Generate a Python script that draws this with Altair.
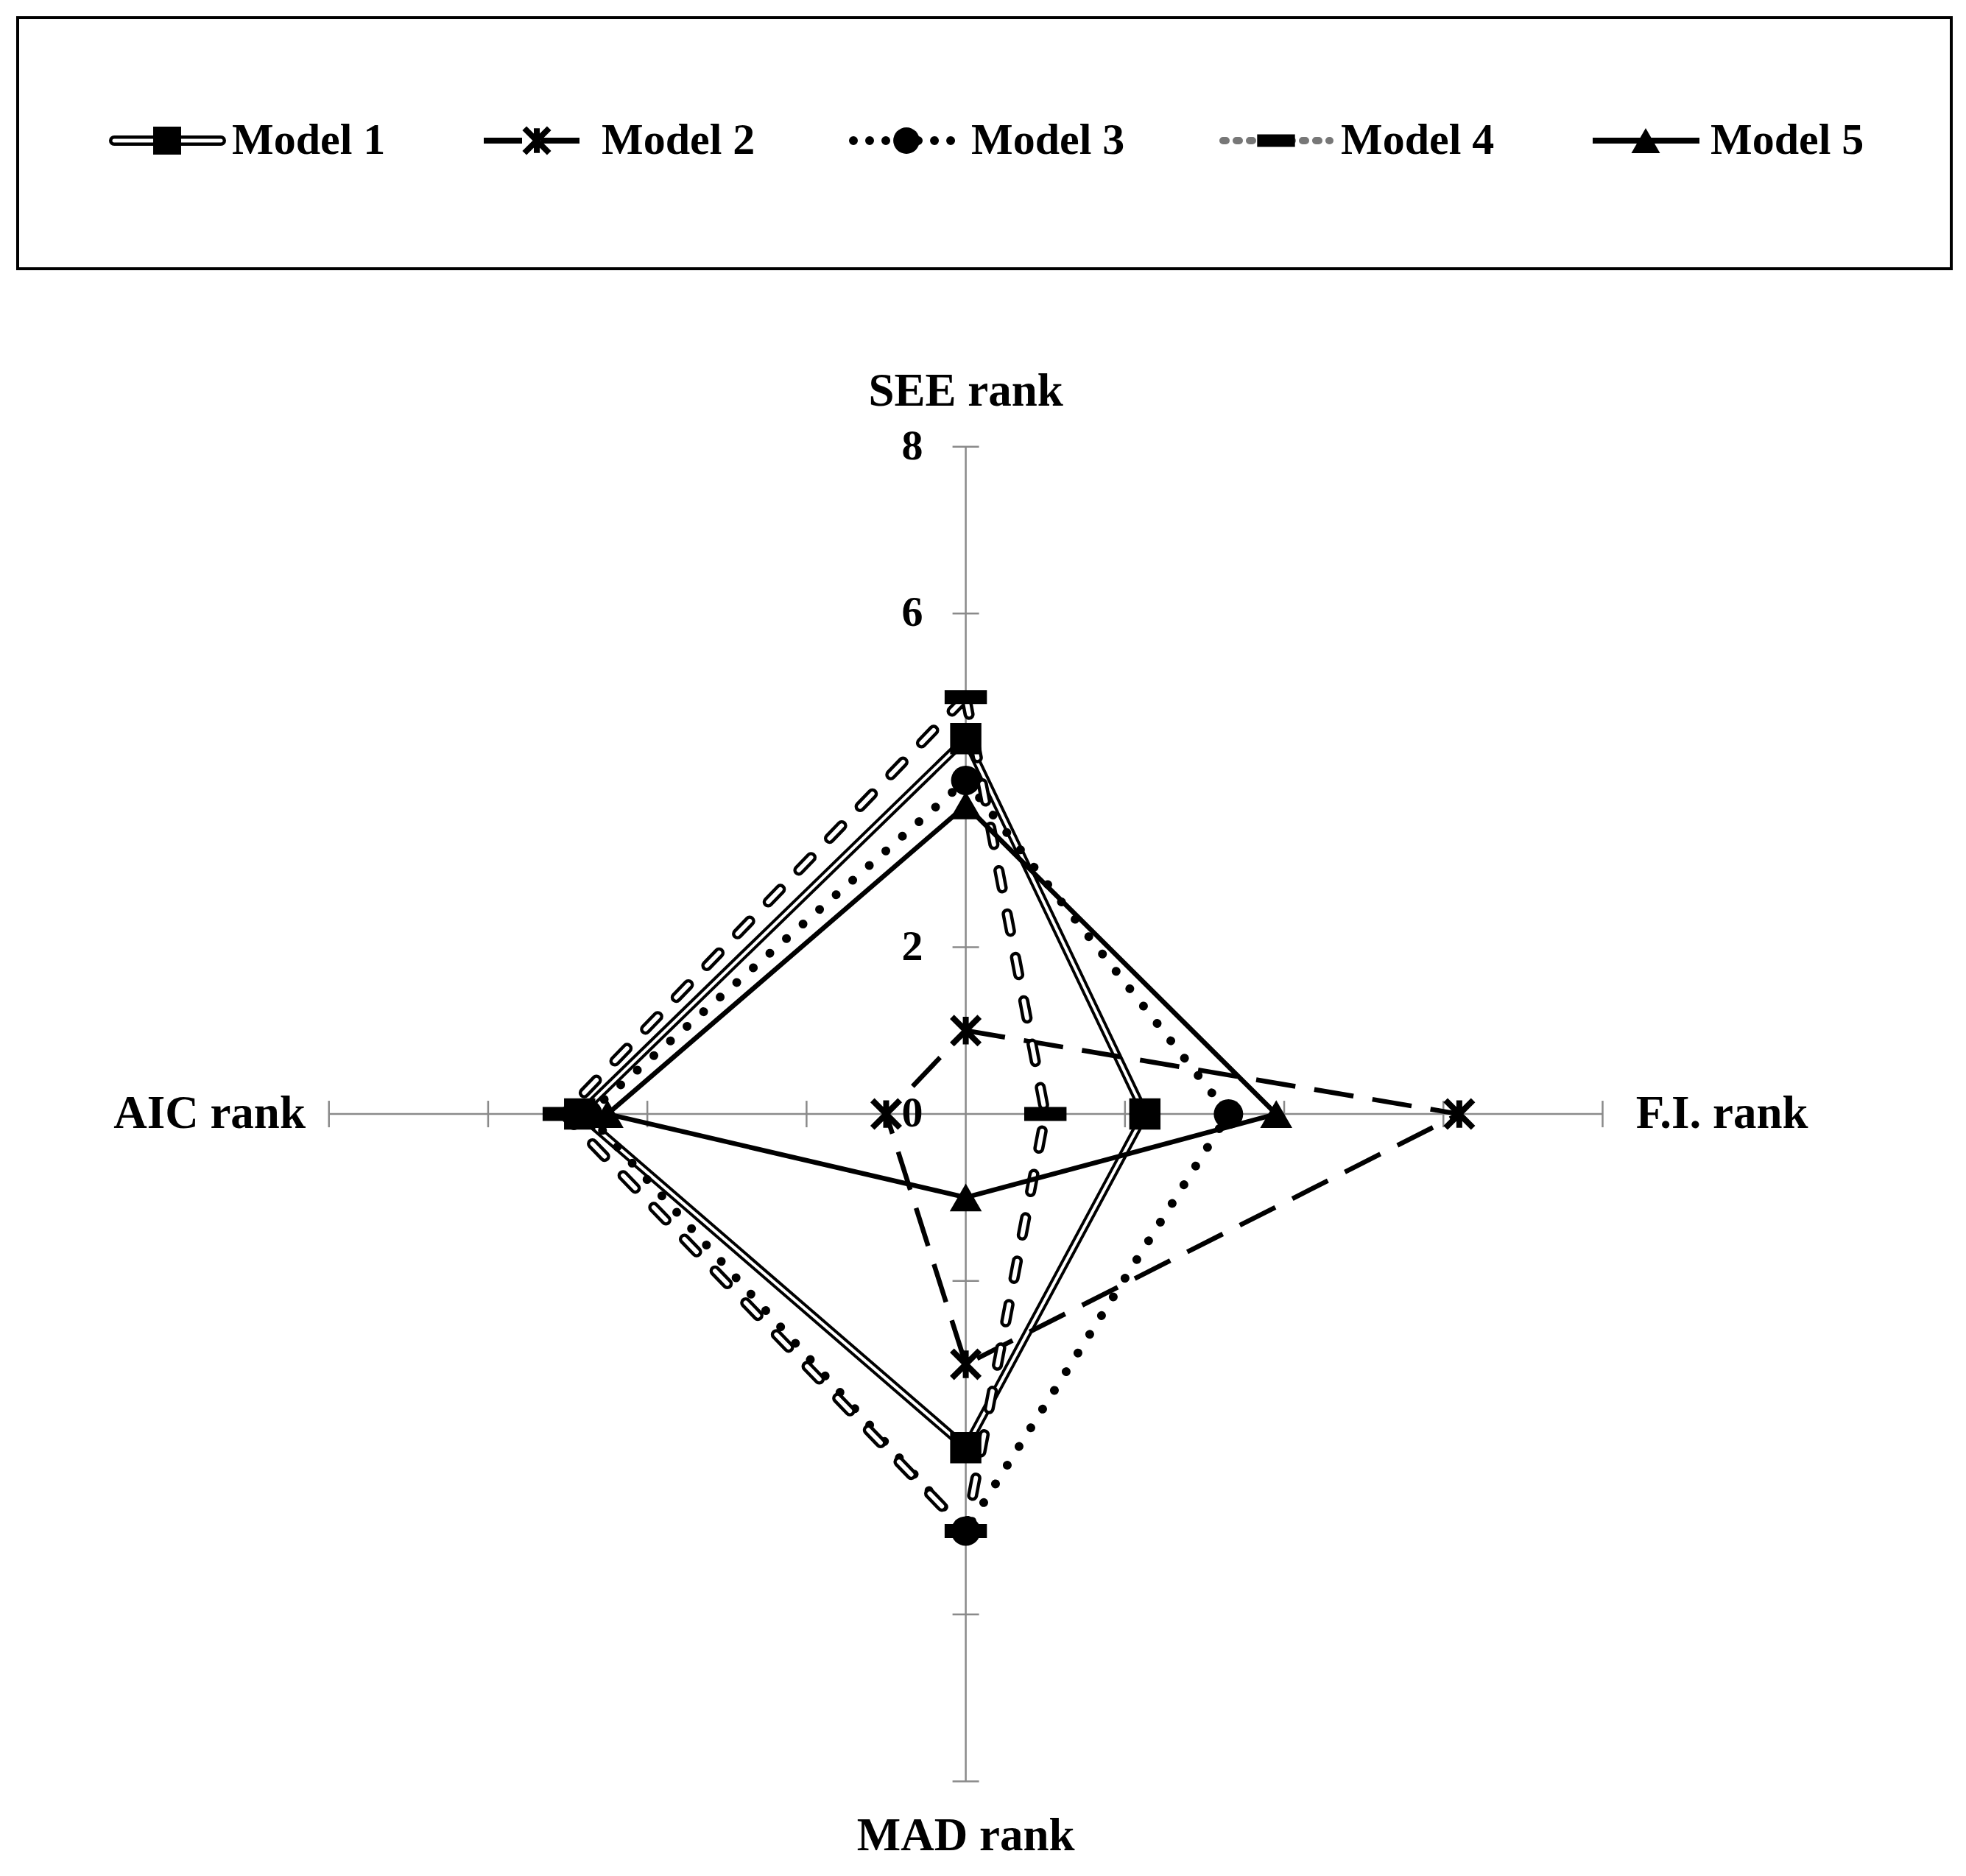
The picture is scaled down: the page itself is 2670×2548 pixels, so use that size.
import altair as alt
import pandas as pd

# ---------------- data ----------------
categories = ["SEE rank", "F.I. rank", "MAD rank", "AIC rank"]
models = ["Model 1", "Model 2", "Model 3", "Model 4", "Model 5"]
see_rank = [4.5, 1.0, 4.0, 5.0, 3.7]
fi_rank = [2.25, 6.2, 3.3, 1.0, 3.9]
mad_rank = [4.0, 3.0, 5.0, 5.0, 1.0]
aic_rank = [4.85, 1.0, 4.75, 5.05, 4.5]
tick_values = [2, 4, 6, 8]
tick_label_values = [0, 2, 6, 8]
r_max = 8

FONT = "Liberation Serif"
W = 2626
LEG_H = 341
RAD_H = 2140
X_DOM = [-11.91, 12.38]
Y_DOM = [-9.10, 9.79]
UX = W / (X_DOM[1] - X_DOM[0])
UY = RAD_H / (Y_DOM[1] - Y_DOM[0])

rows = []
for mi, m in enumerate(models):
    vals = [see_rank[mi], fi_rank[mi], mad_rank[mi], aic_rank[mi]]
    for k in range(5):
        ci = k % 4
        rows.append(dict(model=m, order=k, axis=categories[ci], idx=ci, value=vals[ci]))
series_df = pd.DataFrame(rows)
axes_df = pd.DataFrame({"axis": categories, "idx": list(range(4))})
ticks_df = pd.DataFrame([dict(idx=i, v=v) for i in range(4) for v in tick_values])
tlab_df = pd.DataFrame({"v": tick_label_values, "label": [str(v) for v in tick_label_values]})

xs = alt.Scale(domain=X_DOM, nice=False, zero=False)
ys = alt.Scale(domain=Y_DOM, nice=False, zero=False)


def X(f):
    return alt.X(f, type="quantitative", scale=xs, axis=None)


def Y(f):
    return alt.Y(f, type="quantitative", scale=ys, axis=None)


AXIS_COLOR = "#8a8a8a"

# spokes
spokes = alt.Chart(axes_df).transform_calculate(
    ang="PI/2 - datum.idx*PI/2"
).transform_calculate(
    x0="0", y0="0", x1=f"{r_max}*cos(datum.ang)", y1=f"{r_max}*sin(datum.ang)"
).mark_rule(color=AXIS_COLOR, strokeWidth=2.5).encode(
    x=X("x0"), y=Y("y0"), x2="x1:Q", y2="y1:Q"
)

hx = 18 / UX
hy = 18 / UY
ticks = alt.Chart(ticks_df).transform_calculate(
    ang="PI/2 - datum.idx*PI/2"
).transform_calculate(
    px="datum.v*cos(datum.ang)", py="datum.v*sin(datum.ang)"
).transform_calculate(
    tx1=f"datum.px - sin(datum.ang)*{hx}", tx2=f"datum.px + sin(datum.ang)*{hx}",
    ty1=f"datum.py - cos(datum.ang)*{hy}", ty2=f"datum.py + cos(datum.ang)*{hy}",
).mark_rule(color=AXIS_COLOR, strokeWidth=2.5).encode(
    x=X("tx1"), x2="tx2:Q", y=Y("ty1"), y2="ty2:Q"
)

tick_labels = alt.Chart(tlab_df).transform_calculate(zero="0").mark_text(
    font=FONT, fontWeight="bold", fontSize=58, align="right", baseline="middle", dx=-58, color="black"
).encode(x=X("zero"), y=Y("v"), text="label:N")

titles = alt.Chart(axes_df).transform_calculate(
    ang="PI/2 - datum.idx*PI/2"
).transform_calculate(
    lr="datum.idx % 2 == 0 ? 8.66 : 9.5"
).transform_calculate(
    x="datum.lr*cos(datum.ang)", y="datum.lr*sin(datum.ang)"
).mark_text(
    font=FONT, fontWeight="bold", fontSize=63, align="center", baseline="middle", color="black"
).encode(x=X("x"), y=Y("y"), text="axis:N")

line_styles = {
    "Model 1": [dict(color="black", strokeWidth=12), dict(color="white", strokeWidth=4)],
    "Model 2": [dict(color="black", strokeWidth=6.5, strokeDash=[54, 26])],
    "Model 3": [dict(color="black", strokeWidth=12, strokeDash=[0.01, 30], strokeCap="round")],
    "Model 4": [dict(color="black", strokeWidth=15, strokeDash=[24, 36], strokeCap="round"),
                dict(color="white", strokeWidth=6, strokeDash=[24, 36], strokeCap="round")],
    "Model 5": [dict(color="black", strokeWidth=6.5)],
}
ASTER = "M-1,-1L1,1M-1,1L1,-1M0,-1L0,1"
DASH = "M-1,-0.33L1,-0.33L1,0.33L-1,0.33Z"
marker_styles = {
    "Model 1": dict(shape="square", filled=True, size=1800, color="black", opacity=1),
    "Model 2": dict(shape=ASTER, filled=False, size=1400, color="black", strokeWidth=8, opacity=1),
    "Model 3": dict(shape="circle", filled=True, size=1600, color="black", opacity=1),
    "Model 4": dict(shape=DASH, filled=True, size=3300, color="black", opacity=1),
    "Model 5": dict(shape="triangle-up", filled=True, size=1900, color="black", opacity=1),
}

base = alt.Chart(series_df).transform_calculate(
    ang="PI/2 - datum.idx*PI/2"
).transform_calculate(
    x="datum.value*cos(datum.ang)", y="datum.value*sin(datum.ang)"
)

line_layers = []
marker_layers = []
for m in models:
    b = base.transform_filter(alt.datum.model == m)
    for st in line_styles[m]:
        line_layers.append(
            b.mark_line(strokeJoin="round", **st).encode(x=X("x"), y=Y("y"), order="order:Q")
        )
    marker_layers.append(
        b.transform_filter(alt.datum.order < 4).mark_point(**marker_styles[m]).encode(x=X("x"), y=Y("y"))
    )

radar = alt.layer(spokes, ticks, tick_labels, titles, *line_layers, *marker_layers).properties(
    width=W, height=RAD_H, view=alt.ViewBackground(strokeWidth=0, stroke="transparent")
)

# ---------------- legend ----------------
leg_df = pd.DataFrame({"model": models, "i": list(range(5))})
lx = alt.Scale(domain=[0, W], nice=False, zero=False)
LEG_Y = 167
leg_base = alt.Chart(leg_df).transform_calculate(
    x0="131 + datum.i*502"
).transform_calculate(
    x1="datum.x0 + 145", xm="datum.x0 + 72", xt="datum.x0 + 160"
)
leg_line_styles = {
    "Model 1": [dict(color="black", strokeWidth=14, strokeCap="round"),
                dict(color="white", strokeWidth=5, strokeCap="round")],
    "Model 2": [dict(color="black", strokeWidth=8, strokeDash=[52, 26])],
    "Model 3": [dict(color="black", strokeWidth=12, strokeDash=[0.01, 22], strokeCap="round")],
    "Model 4": [dict(color="#777777", strokeWidth=10, strokeDash=[4, 14], strokeCap="round")],
    "Model 5": [dict(color="black", strokeWidth=8)],
}
leg_layers = []
leg_markers = []
for m in models:
    b = leg_base.transform_filter(alt.datum.model == m)
    for st in leg_line_styles[m]:
        leg_layers.append(
            b.mark_rule(**st).encode(
                x=alt.X("x0:Q", scale=lx, axis=None), x2="x1:Q", y=alt.value(LEG_Y)
            )
        )
    ms = dict(marker_styles[m])
    ms["size"] = ms["size"] * 0.8
    leg_markers.append(
        b.mark_point(**ms).encode(x=alt.X("xm:Q", scale=lx, axis=None), y=alt.value(LEG_Y))
    )
leg_text = leg_base.mark_text(
    font=FONT, fontWeight="bold", fontSize=60, align="left", baseline="middle", color="black"
).encode(x=alt.X("xt:Q", scale=lx, axis=None), y=alt.value(LEG_Y), text="model:N")

legend = alt.layer(*leg_layers, *leg_markers, leg_text).properties(
    width=W, height=LEG_H, view=alt.ViewBackground(stroke="black", strokeWidth=4)
)

chart = alt.vconcat(legend, radar, spacing=37).properties(
    padding={"left": 14, "top": 14, "right": 0, "bottom": 0},
    background="white",
).configure_view(strokeWidth=0)

chart.save("out.html", embed_options={"renderer": "svg", "actions": False})
